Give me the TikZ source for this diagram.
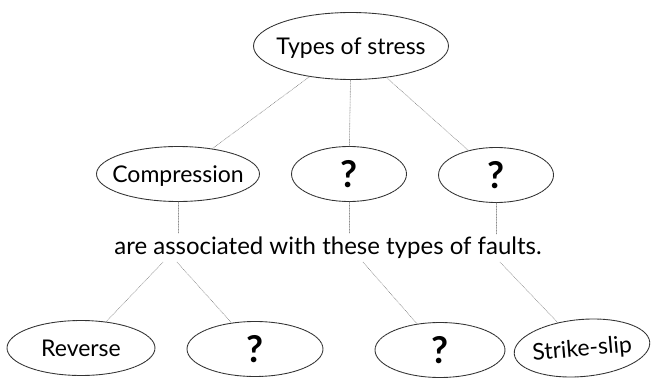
\documentclass[tikz,border=0pt]{standalone}
\usepackage{fontspec}
\setmainfont{Lato}
\usetikzlibrary{shapes.geometric}
\newcommand\bubtext[1]{\smash{\raisebox{-.36em}{\makebox[0pt]{#1}}}}
\begin{document}
\begin{tikzpicture}[x=1pt,y=-1pt,line cap=round,
		bubble/.style={ellipse,draw=black!80,line width=.9pt,dash pattern=on 2.5pt off .6pt,
			inner sep=0pt,minimum height=55pt,font=\fontsize{23}{25}\selectfont},
		ask/.style={bubble,font=\fontsize{37}{39}\selectfont\bfseries},
		link/.style={draw=black!45,densely dotted,line width=.6pt}]
	\useasboundingbox (0,0) rectangle (655,377);
	\node[bubble,minimum width=195pt,minimum height=67pt] (stress) at (351,46) {\bubtext{Types of stress}};
	\node[bubble,minimum width=163pt] (compr) at (178,174) {\bubtext{Compression}};
	\node[ask,minimum width=115pt] (q1) at (349,174) {\bubtext{?}};
	\node[ask,minimum width=115pt] (q2) at (496,175) {\bubtext{?}};
	\node[font=\fontsize{24}{26}\selectfont,inner sep=3pt] (faults) at (328,248)
		{are associated with these types of faults.};
	\node[bubble,minimum width=148pt] (rev) at (81,348) {\bubtext{Reverse}};
	\node[ask,minimum width=136pt] (q3) at (255,349) {\bubtext{?}};
	\node[ask,minimum width=130pt] (q4) at (440,350) {\bubtext{?}};
	\node[bubble,minimum width=136pt,minimum height=57pt,rotate=5] (strike) at (582,348) {\bubtext{Strike-slip}};
	\draw[link] (stress) -- (compr) (stress) -- (q1) (stress) -- (q2);
	\foreach \n in {compr,q1,q2}
		\draw[link] (\n.south) -- (\n.south |- faults.north);
	\foreach \n/\dx in {f1/-165,f2/-151,f3/35,f4/172}
		\coordinate (\n) at ([xshift=\dx pt]faults.south);
	\draw[link] (f1) -- (rev) (f2) -- (q3) (f3) -- (q4) (f4) -- (strike);
\end{tikzpicture}
\end{document}
